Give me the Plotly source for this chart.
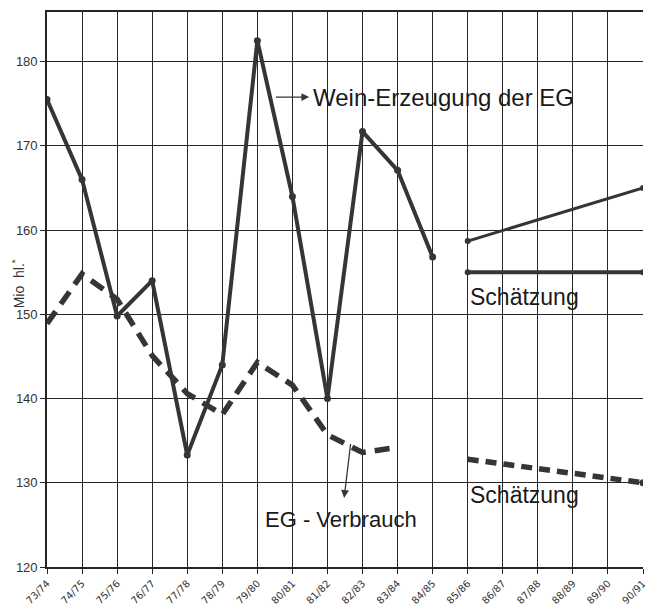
import plotly.graph_objects as go

# ---------------- data ----------------
seasons = ["73/74", "74/75", "75/76", "76/77", "77/78", "78/79", "79/80", "80/81",
           "81/82", "82/83", "83/84", "84/85", "85/86", "86/87", "87/88", "88/89",
           "89/90", "90/91"]

# Wein-Erzeugung der EG (Mio hl), 73/74 .. 84/85
production = [175.5, 166.0, 149.8, 154.0, 133.3, 144.0, 182.5, 164.0, 140.0, 171.7, 167.1, 156.8]
# EG-Verbrauch (Mio hl), 73/74 .. 83/84
consumption = [148.9, 154.8, 151.8, 145.1, 140.6, 138.1, 144.3, 141.6, 135.7, 133.6, 134.2]

# Schätzungen (85/86 and 90/91)
est_seasons = ["85/86", "90/91"]
est_production_high = [158.7, 165.0]
est_production_flat = [155.0, 155.0]
est_consumption = [132.8, 130.0]

y_ticks = [120, 130, 140, 150, 160, 170, 180]

# ---------------- figure ----------------
idx = {s: i for i, s in enumerate(seasons)}
LINE = "#353535"
GRID = "#262626"
FONT = "Liberation Sans, Arial, sans-serif"
TXT = "#1a1a1a"

fig = go.Figure()

fig.add_trace(go.Scatter(
    x=[idx[s] for s in seasons[:len(production)]], y=production,
    mode="lines+markers",
    line=dict(color=LINE, width=4),
    marker=dict(color=LINE, size=7),
    showlegend=False, hoverinfo="skip"))

fig.add_trace(go.Scatter(
    x=[idx[s] for s in seasons[:len(consumption)]], y=consumption,
    mode="lines",
    line=dict(color=LINE, width=5.5, dash="15px,9px"),
    showlegend=False, hoverinfo="skip"))

fig.add_trace(go.Scatter(
    x=[idx[s] for s in est_seasons], y=est_production_high,
    mode="lines+markers",
    line=dict(color=LINE, width=3),
    marker=dict(color=LINE, size=6),
    showlegend=False, hoverinfo="skip"))

fig.add_trace(go.Scatter(
    x=[idx[s] for s in est_seasons], y=est_production_flat,
    mode="lines+markers",
    line=dict(color=LINE, width=4),
    marker=dict(color=LINE, size=6),
    showlegend=False, hoverinfo="skip"))

fig.add_trace(go.Scatter(
    x=[idx[s] for s in est_seasons], y=est_consumption,
    mode="lines",
    line=dict(color=LINE, width=5.5, dash="11px,7px"),
    showlegend=False, hoverinfo="skip"))

fig.add_trace(go.Scatter(
    x=[idx[est_seasons[-1]]], y=[est_consumption[-1]],
    mode="markers", marker=dict(color=LINE, size=7),
    showlegend=False, hoverinfo="skip"))

# ---------------- labels ----------------
annotations = [
    # label with arrow pointing from the line toward the text
    dict(x=6.53, y=175.8, ax=11.3, ay=175.8, xref="x", yref="y", axref="x", ayref="y",
         text="Wein-Erzeugung der EG", showarrow=True, arrowside="start",
         startarrowhead=2, startarrowsize=1.2, arrowwidth=1.3, arrowcolor=LINE, startstandoff=2,
         font=dict(family=FONT, size=24, color=TXT)),
    dict(x=12.0, y=152.1, xref="x", yref="y", text="Schätzung",
         showarrow=False, xanchor="left", yanchor="middle",
         font=dict(family=FONT, size=23, color=TXT)),
    dict(x=12.0, y=128.6, xref="x", yref="y", text="Schätzung",
         showarrow=False, xanchor="left", yanchor="middle",
         font=dict(family=FONT, size=23, color=TXT)),
    dict(x=8.66, y=134.6, ax=8.4, ay=125.6, xref="x", yref="y", axref="x", ayref="y",
         text="EG - Verbrauch", showarrow=True, arrowside="start",
         startarrowhead=2, startarrowsize=1.2, arrowwidth=1.3, arrowcolor=LINE, startstandoff=8,
         font=dict(family=FONT, size=22, color=TXT)),
    dict(x=-0.048, y=0.51, xref="paper", yref="paper", text="Mio  hl.<sup>*</sup>",
         textangle=-90, showarrow=False, xanchor="center", yanchor="middle",
         font=dict(family=FONT, size=14, color="#333")),
]

# page body adds an 8px offset; the figure is sized to fit the 653x612 window
fig.update_layout(
    width=645, height=604,
    margin=dict(l=39, r=10, t=4, b=45),
    paper_bgcolor="white", plot_bgcolor="white",
    annotations=annotations,
    showlegend=False,
    xaxis=dict(
        range=[0, 17], tickmode="array",
        tickvals=list(range(len(seasons))), ticktext=seasons,
        tickangle=-45, ticks="outside", ticklen=5, tickcolor=GRID, tickwidth=1.4,
        tickfont=dict(family="DejaVu Sans, sans-serif", size=10, color="#333"),
        showgrid=True, gridcolor=GRID, gridwidth=1.4,
        showline=True, linecolor=GRID, linewidth=1.6, mirror=True,
        zeroline=False, fixedrange=True, automargin=False),
    yaxis=dict(
        range=[120, 185.9], tickmode="array", tickvals=y_ticks,
        ticks="outside", ticklen=5, tickcolor=GRID, tickwidth=1.4,
        tickfont=dict(family=FONT, size=13, color="#333"),
        showgrid=True, gridcolor=GRID, gridwidth=1.4,
        showline=True, linecolor=GRID, linewidth=1.6,
        zeroline=False, fixedrange=True, automargin=False),
)

fig.write_html("out.html")
